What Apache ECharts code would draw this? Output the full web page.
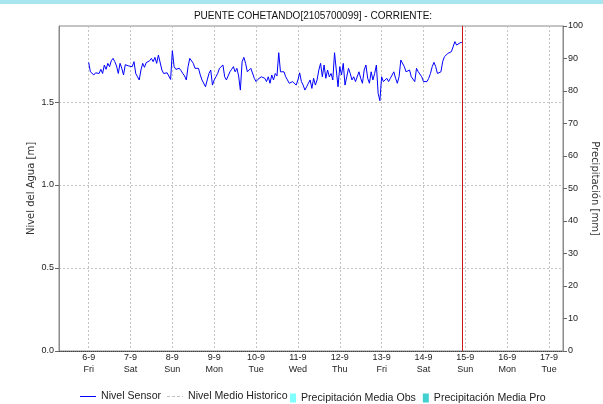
<!DOCTYPE html>
<html>
<head>
<meta charset="utf-8">
<script src="https://cdn.jsdelivr.net/npm/echarts@6/dist/echarts.min.js"></script>
<style>
html, body { margin: 0; padding: 0; background: #fff; }
#chart { width: 603px; height: 404px; }
</style>
</head>
<body>
<div id="chart"></div>
<script>
// Station title
const stationTitle = 'PUENTE COHETANDO[2105700099] - CORRIENTE:';

// Hourly water level readings [m], first reading at 6-9-2024 00:00
const nivelStartDay = [2024, 8, 6];
const nivelSensor = [
  1.739, 1.682, 1.693, 1.663, 1.676, 1.672, 1.672, 1.697, 1.672, 1.723,
  1.697, 1.733, 1.713, 1.749, 1.763, 1.743, 1.717, 1.672, 1.733, 1.703,
  1.663, 1.725, 1.713, 1.717, 1.717, 1.713, 1.743, 1.672, 1.652, 1.633,
  1.693, 1.733, 1.709, 1.737, 1.743, 1.749, 1.763, 1.743, 1.769, 1.733,
  1.783, 1.789, 1.693, 1.672, 1.682, 1.676, 1.672, 1.636, 1.809, 1.713,
  1.697, 1.700, 1.703, 1.689, 1.672, 1.657, 1.633, 1.713, 1.763, 1.753,
  1.733, 1.703, 1.697, 1.703, 1.663, 1.633, 1.636, 1.592, 1.633, 1.672,
  1.693, 1.602, 1.633, 1.652, 1.672, 1.703, 1.693, 1.723, 1.652, 1.633,
  1.643, 1.682, 1.697, 1.713, 1.682, 1.703, 1.657, 1.572, 1.743, 1.769,
  1.733, 1.682, 1.672, 1.703, 1.713, 1.643, 1.623, 1.636, 1.633, 1.652,
  1.663, 1.643, 1.623, 1.652, 1.613, 1.663, 1.633, 1.672, 1.657,
  1.797, 1.682, 1.689, 1.682, 1.652, 1.633, 1.613, 1.602, 1.623, 1.633, 1.602,
  1.633,
  1.676, 1.623, 1.602, 1.572, 1.592, 1.613, 1.633, 1.582, 1.643, 1.602,
  1.633, 1.693, 1.733, 1.652, 1.723, 1.643, 1.693, 1.652, 1.672, 1.633,
  1.797, 1.693, 1.592, 1.713, 1.663, 1.733, 1.602, 1.652, 1.703, 1.672,
  1.633, 1.652, 1.623, 1.633, 1.682, 1.643, 1.613, 1.693, 1.723, 1.643,
  1.613, 1.682, 1.633, 1.672, 1.723, 1.552, 1.508, 1.652, 1.623, 1.633,
  1.643, 1.623, 1.643, 1.633, 1.682, 1.643, 1.613, 1.652, 1.753, 1.743,
  1.713, 1.682, 1.672, 1.693, 1.652, 1.643, 1.623, 1.703, 1.682, 1.693,
  1.652, 1.623, 1.613, 1.623, 1.643, 1.672, 1.713, 1.739, 1.713, 1.672,
  1.663, 1.682, 1.743, 1.773, 1.769, 1.793, 1.783, 1.803, 1.813, 1.864,
  1.843, 1.853, 1.857, 1.859
];

// Series that carry no readings in this period
const nivelMedioHistorico = [];
const precipitacionObs = [];
const precipitacionPro = [];

// Axis ticks
const levelTicks = [0, 0.5, 1.0, 1.5];
const levelMax = 1.958;
const precipMax = 100;
const precipStep = 10;
const dayCount = 12;           // 6-9 .. 17-9
const weekdayNames = ['Sun', 'Mon', 'Tue', 'Wed', 'Thu', 'Fri', 'Sat'];

// Time axis in hours counted from 6-9 00:00: visible window and current-time marker
const windowStartHour = -17;   // 5-9 07:00
const windowEndHour = 272;     // 17-9 08:00
const nowMarkHour = 214.25;    // 14-9 22:15

const [yy, mm, dd] = nivelStartDay;
const nivelData = nivelSensor.map((v, i) => [i, v]);
const dayValues = [];
for (let i = 0; i < dayCount; i++) dayValues.push(i * 24);

const FONT = '"Liberation Sans", Arial, sans-serif';
const NAME_FONT = '"DejaVu Sans", sans-serif';
const gridLine = { show: true, lineStyle: { color: '#c4c4c4', type: [2, 2], width: 1 } };

// Legend glyphs: a solid stroke and a dashed stroke
const solidStroke = 'path://M0,0h16v1h-16z';
const dashedStroke = 'path://M0,0h3v1h-3zM5,0h3v1h-3zM10,0h3v1h-3zM15,0h1v1h-1z';

const chart = echarts.init(document.getElementById('chart'), null, { renderer: 'canvas' });
chart.setOption({
  animation: false,
  backgroundColor: '#ffffff',
  textStyle: { fontFamily: FONT },
  graphic: [{
    type: 'rect', left: 0, top: 0, silent: true,
    shape: { width: 603, height: 4 },
    style: { fill: '#a9e5ef' }
  }],
  title: {
    text: stationTitle,
    left: 308, top: 6, textAlign: 'center',
    textStyle: { fontSize: 10, fontWeight: 'normal', color: '#111', fontFamily: FONT }
  },
  grid: {
    left: 59, right: 40, top: 26, bottom: 53,
    show: true, borderColor: '#8a8a8a', borderWidth: 1,
    containLabel: false, outerBoundsMode: 'none'
  },
  legend: [{
    data: [
      { name: 'Nivel Sensor', icon: solidStroke },
      { name: 'Nivel Medio Historico', icon: dashedStroke }
    ],
    left: 80, top: 391, padding: 0, itemWidth: 16, itemHeight: 12, itemGap: 6,
    textStyle: { fontSize: 10.6, color: '#222', fontFamily: FONT }
  }, {
    data: ['Precipitación Media Obs', 'Precipitación Media Pro'],
    left: 290, top: 392.5, padding: 0, itemWidth: 6, itemHeight: 9, itemGap: 7, icon: 'rect',
    textStyle: { fontSize: 10.6, color: '#222', fontFamily: FONT }
  }],
  xAxis: {
    type: 'value',
    min: windowStartHour, max: windowEndHour,
    axisLine: { show: true, onZero: false, lineStyle: { color: '#444', type: 'dotted', width: 1 } },
    axisTick: { show: false, customValues: dayValues },
    splitLine: gridLine,
    axisLabel: {
      customValues: dayValues,
      fontSize: 9, color: '#222', lineHeight: 12, margin: 1, fontFamily: FONT,
      formatter: (h) => {
        const d = new Date(yy, mm, dd, h);
        return d.getDate() + '-' + (d.getMonth() + 1) + '\n' + weekdayNames[d.getDay()];
      }
    }
  },
  yAxis: [{
    type: 'value', min: 0, max: levelMax, position: 'left',
    name: 'Nivel del Agua [m]', nameLocation: 'middle', nameGap: 23, nameMoveOverlap: false,
    nameTextStyle: { fontSize: 10, color: '#333', fontFamily: NAME_FONT },
    axisLine: { show: true, onZero: false, lineStyle: { color: '#8a8a8a' } },
    axisTick: { show: true, length: 4, customValues: levelTicks, lineStyle: { color: '#666' } },
    axisLabel: { customValues: levelTicks, fontSize: 9, color: '#222', margin: 5,
      formatter: (v) => Number(v).toFixed(1) },
    splitLine: gridLine
  }, {
    type: 'value', min: 0, max: precipMax, interval: precipStep, position: 'right',
    name: 'Precipitación [mm]', nameLocation: 'middle', nameGap: 27, nameRotate: -90,
    nameMoveOverlap: false,
    nameTextStyle: { fontSize: 10, color: '#333', fontFamily: NAME_FONT },
    axisLine: { show: true, onZero: false, lineStyle: { color: '#8a8a8a' } },
    axisTick: { show: true, length: 4, lineStyle: { color: '#666' } },
    axisLabel: { fontSize: 9, color: '#222', margin: 5 },
    splitLine: { show: false }
  }],
  series: [{
    name: 'Nivel Sensor', type: 'line', yAxisIndex: 0,
    data: nivelData, symbol: 'none', showSymbol: false,
    lineStyle: { color: '#0000ff', width: 1 }, itemStyle: { color: '#0000ff' },
    markLine: {
      silent: true, symbol: 'none', label: { show: false },
      lineStyle: { color: '#cc1818', type: 'solid', width: 1 },
      data: [{ xAxis: nowMarkHour }]
    }
  }, {
    name: 'Nivel Medio Historico', type: 'line', yAxisIndex: 0,
    data: nivelMedioHistorico, symbol: 'none',
    lineStyle: { color: '#c0c0c0', type: 'dashed', width: 1 }, itemStyle: { color: '#c0c0c0' }
  }, {
    name: 'Precipitación Media Obs', type: 'bar', yAxisIndex: 1,
    data: precipitacionObs, itemStyle: { color: '#80ffff' }
  }, {
    name: 'Precipitación Media Pro', type: 'bar', yAxisIndex: 1,
    data: precipitacionPro, itemStyle: { color: '#40d0d0' }
  }]
});
</script>
</body>
</html>
